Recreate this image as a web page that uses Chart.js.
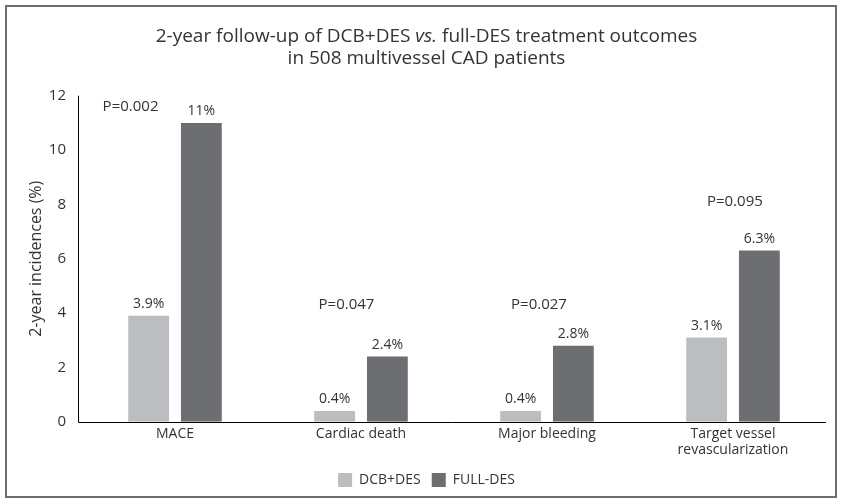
<!DOCTYPE html>
<html>
<head>
<meta charset="utf-8">
<script src="https://cdn.jsdelivr.net/npm/chart.js@4"></script>
<style>
  html, body { margin: 0; padding: 0; background: #fff; }
  #wrap { position: relative; width: 841px; height: 502px; }
  #frame { position: absolute; left: 5px; top: 5px; width: 828px; height: 489px; border: 2px solid #6d6e71; pointer-events: none; }
  canvas { position: absolute; left: 0; top: 0; }
</style>
</head>
<body>
<div id="wrap">
  <canvas id="c" width="841" height="502"></canvas>
  <div id="frame"></div>
</div>
<script>
// Outcome categories and 2-year incidences (%) per strategy
const categories = ['MACE', 'Cardiac death', 'Major bleeding', ['Target vessel', 'revascularization']];
const dcbDes = [3.9, 0.4, 0.4, 3.1];
const fullDes = [11, 2.4, 2.8, 6.3];
const pValues = ['P=0.002', 'P=0.047', 'P=0.027', 'P=0.095'];
const yTicks = [0, 2, 4, 6, 8, 10, 12];
const titleLines = [
  [['2-year follow-up of DCB+DES ', false], ['vs.', true], [' full-DES treatment outcomes', false]],
  [['in 508 multivessel CAD patients', false]]
];

const FONT = '"Open Sans", "Noto Sans", sans-serif';
const TEXT = '#333333';
const TITLE_SIZE = 19;
const TITLE_LH = 1.15;
const AXIS_OVERHANG = 4; // axis lines start a little left of the first category band

// Placement of each P-value note: offset from category centre (in category widths) and height on the value axis
const pNotePlacement = [
  { dx: -0.239, y: 11.59 },
  { dx: -0.078, y: 4.3 },
  { dx: -0.043, y: 4.3 },
  { dx: 0.01, y: 8.11 }
];

// Title with an italic "vs.", drawn into the space reserved by the built-in title block
const richTitle = {
  id: 'richTitle',
  afterDraw(chart) {
    const { ctx } = chart;
    const tb = chart.titleBlock;
    const cx = (tb.left + tb.right) / 2;
    const lh = TITLE_SIZE * TITLE_LH;
    ctx.save();
    ctx.fillStyle = TEXT;
    ctx.textBaseline = 'middle';
    ctx.textAlign = 'left';
    titleLines.forEach((segs, li) => {
      const fontOf = it => (it ? 'italic ' : '') + TITLE_SIZE + 'px ' + FONT;
      let total = 0;
      segs.forEach(([t, it]) => { ctx.font = fontOf(it); total += ctx.measureText(t).width; });
      let x = cx - total / 2;
      const y = tb.top + lh * (li + 0.5);
      segs.forEach(([t, it]) => {
        ctx.font = fontOf(it);
        ctx.fillText(t, x, y);
        x += ctx.measureText(t).width;
      });
    });
    ctx.restore();
  }
};

// Axis lines (L-shaped frame of the plot area)
const axisLines = {
  id: 'axisLines',
  afterDatasetsDraw(chart) {
    const { ctx, chartArea: a } = chart;
    ctx.save();
    ctx.strokeStyle = '#000';
    ctx.lineWidth = 1;
    ctx.beginPath();
    const x0 = Math.round(a.left - AXIS_OVERHANG) + 0.5;
    const y0 = Math.round(a.bottom) + 0.5;
    ctx.moveTo(x0, a.top);
    ctx.lineTo(x0, y0);
    ctx.lineTo(a.right, y0);
    ctx.stroke();
    ctx.restore();
  }
};

const annotations = {
  id: 'annotations',
  afterDatasetsDraw(chart) {
    const { ctx, scales: { x, y } } = chart;
    ctx.save();
    ctx.fillStyle = TEXT;
    ctx.textAlign = 'center';
    ctx.textBaseline = 'bottom';
    ctx.font = '14px ' + FONT;
    chart.data.datasets.forEach((ds, di) => {
      chart.getDatasetMeta(di).data.forEach((bar, i) => {
        ctx.fillText(ds.data[i] + '%', bar.x, bar.y - 5);
      });
    });
    const catW = (x.right - x.left) / categories.length;
    ctx.textBaseline = 'middle';
    ctx.font = '15px ' + FONT;
    pValues.forEach((t, i) => {
      const p = pNotePlacement[i];
      ctx.fillText(t, x.getPixelForValue(i) + p.dx * catW, y.getPixelForValue(p.y));
    });
    ctx.restore();
  }
};

new Chart(document.getElementById('c'), {
  type: 'bar',
  data: {
    labels: categories,
    datasets: [
      { label: 'DCB+DES', data: dcbDes, backgroundColor: '#bcbdc0', categoryPercentage: 0.567, barPercentage: 0.774 },
      { label: 'FULL-DES', data: fullDes, backgroundColor: '#6d6e71', categoryPercentage: 0.567, barPercentage: 0.774 }
    ]
  },
  options: {
    responsive: false,
    animation: false,
    layout: { padding: { left: 27, right: 15, top: 26, bottom: 5 } },
    plugins: {
      title: {
        display: true,
        text: titleLines.map(segs => segs.map(s => s[0]).join('')),
        color: 'rgba(0,0,0,0)',
        font: { family: FONT, size: TITLE_SIZE, weight: 'normal', lineHeight: TITLE_LH },
        padding: { top: 0, bottom: 26 }
      },
      legend: {
        position: 'bottom',
        labels: {
          color: TEXT,
          font: { family: FONT, size: 14 },
          boxWidth: 14,
          boxHeight: 14,
          padding: 11
        }
      },
      tooltip: { enabled: false }
    },
    scales: {
      x: {
        grid: { display: false, drawTicks: false },
        border: { display: false },
        ticks: { color: TEXT, font: { family: FONT, size: 14, lineHeight: 1.15 }, padding: 4, maxRotation: 0 }
      },
      y: {
        min: 0,
        max: 12,
        afterBuildTicks(scale) { scale.ticks = yTicks.map(v => ({ value: v })); },
        afterFit(scale) { scale.width = 55; },
        grid: { display: false, drawTicks: false },
        border: { display: false },
        ticks: { color: TEXT, font: { family: FONT, size: 15 }, padding: 16 },
        title: { display: true, text: '2-year incidences (%)', color: TEXT, font: { family: FONT, size: 16 }, padding: { top: 0, bottom: 0 } }
      }
    }
  },
  plugins: [axisLines, annotations, richTitle]
});
</script>
</body>
</html>
